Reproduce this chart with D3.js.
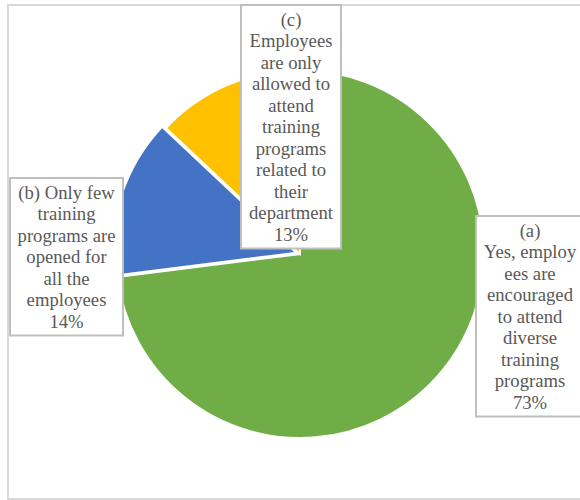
<!DOCTYPE html>
<html>
<head>
<meta charset="utf-8">
<script src="https://cdn.jsdelivr.net/npm/d3@7"></script>
<style>
  html, body { margin: 0; padding: 0; background: #fff; }
  svg { display: block; }
</style>
</head>
<body>
<svg id="chart" width="580" height="500"></svg>
<script>
// Survey answers, in drawing order (clockwise from 12 o'clock)
const categories = ["(a)", "(b)", "(c)"];
const values = [73, 14, 13];
const percentLabels = ["73%", "14%", "13%"];
// Wrapped label lines for each answer (category text + percentage)
const labelLinesA = ["(a)", "Yes, employ", "ees are", "encouraged", "to attend", "diverse", "training", "programs"];
const labelLinesB = ["(b) Only few", "training", "programs are", "opened for", "all the", "employees"];
const labelLinesC = ["(c)", "Employees", "are only", "allowed to", "attend", "training", "programs", "related to", "their", "department"];
const labelLines = [labelLinesA, labelLinesB, labelLinesC];
const colors = ["#70AD47", "#4472C4", "#FFC000"];

const svg = d3.select("#chart");
const W = 580, H = 500;

// Chart area frame
svg.append("rect")
  .attr("x", 8).attr("y", 5)
  .attr("width", W + 10).attr("height", H - 6)
  .attr("fill", "#fff")
  .attr("stroke", "#d9d9d9")
  .attr("stroke-width", 2);

const cx = 300, cy = 254, radius = 184;
const explode = [0, 4, 0];

const pie = d3.pie().sort(null).value(d => d)(values);
const arc = d3.arc().innerRadius(0).outerRadius(radius);

const g = svg.append("g").attr("transform", `translate(${cx},${cy})`);
g.selectAll("path")
  .data(pie)
  .join("path")
  .attr("d", arc)
  .attr("fill", (d, i) => colors[i])
  .attr("stroke", "#fff")
  .attr("stroke-width", 2)
  .attr("transform", (d, i) => {
    const a = (d.startAngle + d.endAngle) / 2;
    return `translate(${Math.sin(a) * explode[i]},${-Math.cos(a) * explode[i]})`;
  });

// Data label boxes
const lineH = 21.5, pad = 3.5, fontSize = 18.67;
const boxes = [
  { x: 476, y: 216, w: 112 },
  { x: 10, y: 178, w: 113 },
  { x: 241, y: 5, w: 100 }
];

categories.forEach((c, i) => {
  const lines = labelLines[i].concat([percentLabels[i]]);
  const b = boxes[i];
  const h = lines.length * lineH + 2 * pad;
  const lg = svg.append("g");
  lg.append("rect")
    .attr("x", b.x).attr("y", b.y)
    .attr("width", b.w).attr("height", h)
    .attr("fill", "#fff")
    .attr("stroke", "#bfbfbf")
    .attr("stroke-width", 2);
  const tx = i === 0 ? 530 : b.x + b.w / 2;
  lg.append("text")
    .attr("font-family", "'Liberation Serif', 'Times New Roman', serif")
    .attr("font-size", fontSize)
    .attr("fill", "#595959")
    .attr("text-anchor", "middle")
    .selectAll("tspan")
    .data(lines)
    .join("tspan")
    .attr("x", tx)
    .attr("y", (d, k) => b.y + pad + lineH * k + lineH / 2)
    .attr("dominant-baseline", "central")
    .text(d => d);
});
</script>
</body>
</html>
